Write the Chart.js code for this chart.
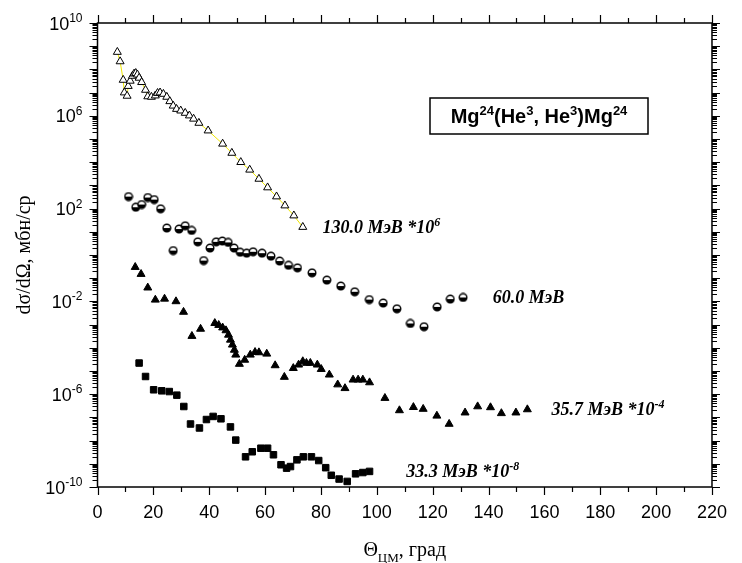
<!DOCTYPE html>
<html>
<head>
<meta charset="utf-8">
<script src="https://cdn.jsdelivr.net/npm/chart.js@4.4.1/dist/chart.umd.min.js"></script>
<style>
  html, body { margin: 0; padding: 0; background: #fff; }
</style>
</head>
<body>
<canvas id="c" width="742" height="563"></canvas>
<script>
// 130.0 MeV (*10^6), open triangles
const angle130 = [7.1, 8.1, 9.2, 9.6, 10.6, 11.0, 11.7, 12.5, 13.1, 13.7, 14.3, 14.9, 15.8, 17.2, 18.0, 19.3, 20.7, 21.5, 22.4, 23.6,
  24.8, 25.9, 27.1, 28.3, 29.8, 31.4, 32.9, 34.4, 36.3, 39.6, 44.8, 48.1, 51.3, 54.5, 57.8, 60.9, 64.1, 67.1, 70.3, 73.5];
const sigma130 = [5.6e8, 2.2e8, 3.5e7, 1.0e7, 7.2e6, 1.9e7, 3.2e7, 5.2e7, 6.5e7, 6.9e7, 5.9e7, 4.3e7, 2.8e7, 1.3e7, 6.8e6, 6.5e6, 7.4e6, 9.5e6, 1.0e7, 8.7e6,
  6.5e6, 4.2e6, 2.7e6, 1.95e6, 1.66e6, 1.32e6, 1.02e6, 7.4e5, 4.9e5, 2.3e5, 6.2e4, 2.5e4, 1.0e4, 4.7e3, 1.9e3, 810, 330, 135, 50, 16];

// 60.0 MeV, half-filled circles
const angle60 = [11.1, 13.7, 15.8, 18.0, 20.3, 22.6, 24.8, 27.1, 29.2, 31.4, 33.7, 35.9, 38.0, 40.3, 42.5, 44.7, 46.8, 48.9, 51.1, 53.4,
  55.7, 58.9, 62.1, 65.2, 68.4, 71.6, 76.8, 82.1, 87.1, 92.1, 97.3, 102.3, 107.2, 112.0, 116.9, 121.6, 126.3, 130.9];
const sigma60 = [330, 115, 150, 300, 245, 98, 14.5, 1.55, 13.2, 18.2, 11.5, 3.7, 0.575, 2.0, 3.7, 4.0, 3.5, 2.0, 1.32, 1.2,
  1.38, 1.2, 0.89, 0.55, 0.36, 0.28, 0.17, 0.083, 0.046, 0.026, 0.012, 0.0085, 0.0048, 0.00112, 0.00081, 0.0058, 0.0126, 0.0148];

// 35.7 MeV (*10^-4), filled triangles
const angle35 = [13.5, 15.6, 18.0, 20.7, 24.0, 28.1, 30.8, 33.8, 36.9, 42.0, 43.4, 44.8, 46.0, 46.9, 47.6, 48.3, 49.0, 49.5, 50.8, 52.7,
  54.7, 56.4, 57.8, 60.6, 63.6, 66.9, 70.1, 72.0, 73.5, 74.8, 76.2, 78.7, 80.1, 83.0, 86.0, 88.6, 91.5, 93.3, 95.0, 97.4,
  102.9, 108.1, 113.1, 116.6, 121.5, 125.9, 131.6, 136.1, 140.7, 144.6, 149.8, 153.9];
const sigma35 = [0.30, 0.15, 0.039, 0.0117, 0.0129, 0.010, 0.0035, 3.2e-4, 6.5e-4, 1.15e-3, 9.5e-4, 7.4e-4, 5.6e-4, 3.6e-4, 2.2e-4, 1.35e-4, 8.1e-5, 5.0e-5, 2.0e-5, 3.0e-5,
  5.0e-5, 6.5e-5, 6.3e-5, 5.5e-5, 1.74e-5, 5.5e-6, 1.32e-5, 1.86e-5, 2.6e-5, 2.2e-5, 2.2e-5, 1.86e-5, 1.2e-5, 6.9e-6, 2.6e-6, 1.8e-6, 4.2e-6, 4.2e-6, 4.2e-6, 3.2e-6,
  6.8e-7, 2.0e-7, 2.75e-7, 2.3e-7, 1.17e-7, 5.2e-8, 1.6e-7, 2.95e-7, 2.7e-7, 1.5e-7, 1.6e-7, 2.2e-7];

// 33.3 MeV (*10^-8), filled squares
const angle33 = [14.9, 17.2, 20.1, 23.0, 25.7, 28.4, 30.9, 33.3, 36.5, 39.0, 41.4, 44.2, 47.6, 49.5, 53.0, 55.4, 58.5, 60.9, 63.0, 65.7,
  67.7, 69.1, 71.4, 73.7, 76.6, 79.2, 81.7, 83.7, 86.5, 89.4, 92.4, 95.0, 97.4];
const sigma33 = [2.2e-5, 5.8e-6, 1.55e-6, 1.4e-6, 1.3e-6, 9.1e-7, 2.95e-7, 5.2e-8, 3.5e-8, 8.1e-8, 1.1e-7, 8.7e-8, 3.9e-8, 1.05e-8, 2.0e-9, 3.3e-9, 4.7e-9, 4.7e-9, 2.45e-9, 9.1e-10,
  6.5e-10, 7.6e-10, 1.48e-9, 2.0e-9, 2.0e-9, 1.38e-9, 6.8e-10, 3.2e-10, 2.2e-10, 1.74e-10, 3.7e-10, 4.2e-10, 4.7e-10];

const xTickLabels = [0, 20, 40, 60, 80, 100, 120, 140, 160, 180, 200, 220];
const yTickExponents = [-10, -6, -2, 2, 6, 10];

const seriesLabels = [
  { x: 75.5, y: 16, parts: [['130.0 МэВ *10', 0], ['6', 1]] },
  { x: 136.5, y: 0.0148, parts: [['60.0 МэВ', 0]] },
  { x: 157.5, y: 2.2e-7, parts: [['35.7 МэВ *10', 0], ['-4', 1]] },
  { x: 105.5, y: 4.7e-10, parts: [['33.3 МэВ *10', 0], ['-8', 1]] }
];

function pts(xs, ys) { return xs.map((x, i) => ({ x: x, y: ys[i] })); }

// half-filled circle marker
const halfCircle = document.createElement('canvas');
halfCircle.width = 10; halfCircle.height = 10;
(function () {
  const g = halfCircle.getContext('2d');
  g.beginPath(); g.arc(5, 5, 3.8, 0, Math.PI * 2); g.fillStyle = '#fff'; g.fill();
  g.beginPath(); g.arc(5, 5, 3.8, 0, Math.PI); g.closePath(); g.fillStyle = '#000'; g.fill();
  g.beginPath(); g.arc(5, 5, 3.8, 0, Math.PI * 2); g.lineWidth = 1.4; g.strokeStyle = '#000'; g.stroke();
})();

function richText(ctx, parts, x, y, size, family, style, align) {
  const font = (lvl) => style + ' ' + (lvl ? Math.round(size * 0.65) : size) + 'px ' + family;
  let w = 0;
  parts.forEach(p => { ctx.font = font(p[1]); w += ctx.measureText(p[0]).width; });
  let cx = align === 'center' ? x - w / 2 : align === 'right' ? x - w : x;
  ctx.textAlign = 'left';
  ctx.textBaseline = 'alphabetic';
  parts.forEach(p => {
    ctx.font = font(p[1]);
    const dy = p[1] === 1 ? -size * 0.42 : p[1] === -1 ? size * 0.3 : 0;
    ctx.fillText(p[0], cx, y + dy);
    cx += ctx.measureText(p[0]).width;
  });
  return w;
}

const framePlugin = {
  id: 'frame',
  afterDraw(chart) {
    const ctx = chart.ctx;
    const a = chart.chartArea;
    const xs = chart.scales.x, ys = chart.scales.y;
    ctx.save();
    ctx.strokeStyle = '#000';
    ctx.fillStyle = '#000';
    ctx.lineWidth = 1.5;
    ctx.strokeRect(a.left, a.top, a.right - a.left, a.bottom - a.top);

    ctx.lineWidth = 1.2;
    ctx.beginPath();
    for (let v = 0; v <= 220; v += 10) {
      const px = Math.round(xs.getPixelForValue(v)) + 0.5;
      const len = v % 20 === 0 ? 8 : 5;
      ctx.moveTo(px, a.bottom); ctx.lineTo(px, a.bottom + len);
      ctx.moveTo(px, a.top); ctx.lineTo(px, a.top - len);
    }
    for (let k = -10; k <= 10; k++) {
      for (let m = 1; m <= 9; m++) {
        if (k === 10 && m > 1) break;
        const py = Math.round(ys.getPixelForValue(m * Math.pow(10, k))) + 0.5;
        const len = m === 1 ? 8 : 5;
        ctx.moveTo(a.left, py); ctx.lineTo(a.left - len, py);
        ctx.moveTo(a.right, py); ctx.lineTo(a.right + len, py);
      }
    }
    ctx.stroke();

    // y tick labels 10^n
    yTickExponents.forEach(e => {
      const py = ys.getPixelForValue(Math.pow(10, e));
      richText(ctx, [['10', 0], [String(e), 1]], a.left - 15, py + 6.5, 18, '"Liberation Sans", Arial, sans-serif', 'normal', 'right');
    });

    // axis titles
    richText(ctx, [['Θ', 0], ['ЦМ', -1], [', град', 0]], (a.left + a.right) / 2, 556, 20, '"Liberation Serif", "Times New Roman", serif', 'normal', 'center');
    ctx.save();
    ctx.translate(30, (a.top + a.bottom) / 2);
    ctx.rotate(-Math.PI / 2);
    richText(ctx, [['dσ/dΩ, мбн/ср', 0]], 0, 0, 20, '"Liberation Serif", "Times New Roman", serif', 'normal', 'center');
    ctx.restore();

    // series labels
    seriesLabels.forEach(l => {
      const px = xs.getPixelForValue(l.x) + 14;
      const py = ys.getPixelForValue(l.y);
      richText(ctx, l.parts, px, py + 6, 18, '"Liberation Serif", "Times New Roman", serif', 'italic bold', 'left');
    });

    // reaction box
    const bx = 430, by = 98, bw = 218, bh = 36;
    ctx.fillStyle = '#fff';
    ctx.fillRect(bx, by, bw, bh);
    ctx.lineWidth = 1.5;
    ctx.strokeRect(bx, by, bw, bh);
    ctx.fillStyle = '#000';
    richText(ctx, [['Mg', 0], ['24', 1], ['(He', 0], ['3', 1], [', He', 0], ['3', 1], [')Mg', 0], ['24', 1]],
      bx + bw / 2, by + 25, 20, '"Liberation Sans", Arial, sans-serif', 'bold', 'center');
    ctx.restore();
  }
};

new Chart(document.getElementById('c'), {
  type: 'scatter',
  data: {
    datasets: [
      {
        data: pts(angle130, sigma130), showLine: true, borderColor: '#f0e800', borderWidth: 1,
        pointStyle: 'triangle', pointRadius: 4.6, pointBackgroundColor: '#fff', pointBorderColor: '#000', pointBorderWidth: 1
      },
      { data: pts(angle60, sigma60), showLine: false, pointStyle: halfCircle, pointRadius: 5 },
      {
        data: pts(angle35, sigma35), showLine: false, pointStyle: 'triangle', pointRadius: 4.6,
        pointBackgroundColor: '#000', pointBorderColor: '#000', pointBorderWidth: 1
      },
      {
        data: pts(angle33, sigma33), showLine: false, pointStyle: 'rect', pointRadius: 4.6,
        pointBackgroundColor: '#000', pointBorderColor: '#000', pointBorderWidth: 1
      }
    ]
  },
  options: {
    responsive: false,
    animation: false,
    devicePixelRatio: 1,
    layout: { padding: { top: 23, right: 16, left: 0, bottom: 0 } },
    plugins: { legend: { display: false }, tooltip: { enabled: false } },
    scales: {
      x: {
        type: 'linear', min: 0, max: 220,
        afterBuildTicks: s => { s.ticks = xTickLabels.map(v => ({ value: v })); },
        ticks: { color: '#000', padding: 15, maxRotation: 0, autoSkip: false, font: { family: '"Liberation Sans", Arial, sans-serif', size: 18 } },
        grid: { display: false, drawTicks: false },
        border: { display: false },
        afterFit: s => { s.height = 76; }
      },
      y: {
        type: 'logarithmic', min: 1e-10, max: 1e10,
        ticks: { display: false },
        grid: { display: false, drawTicks: false },
        border: { display: false },
        afterFit: s => { s.width = 97.5; }
      }
    }
  },
  plugins: [framePlugin]
});
</script>
</body>
</html>
